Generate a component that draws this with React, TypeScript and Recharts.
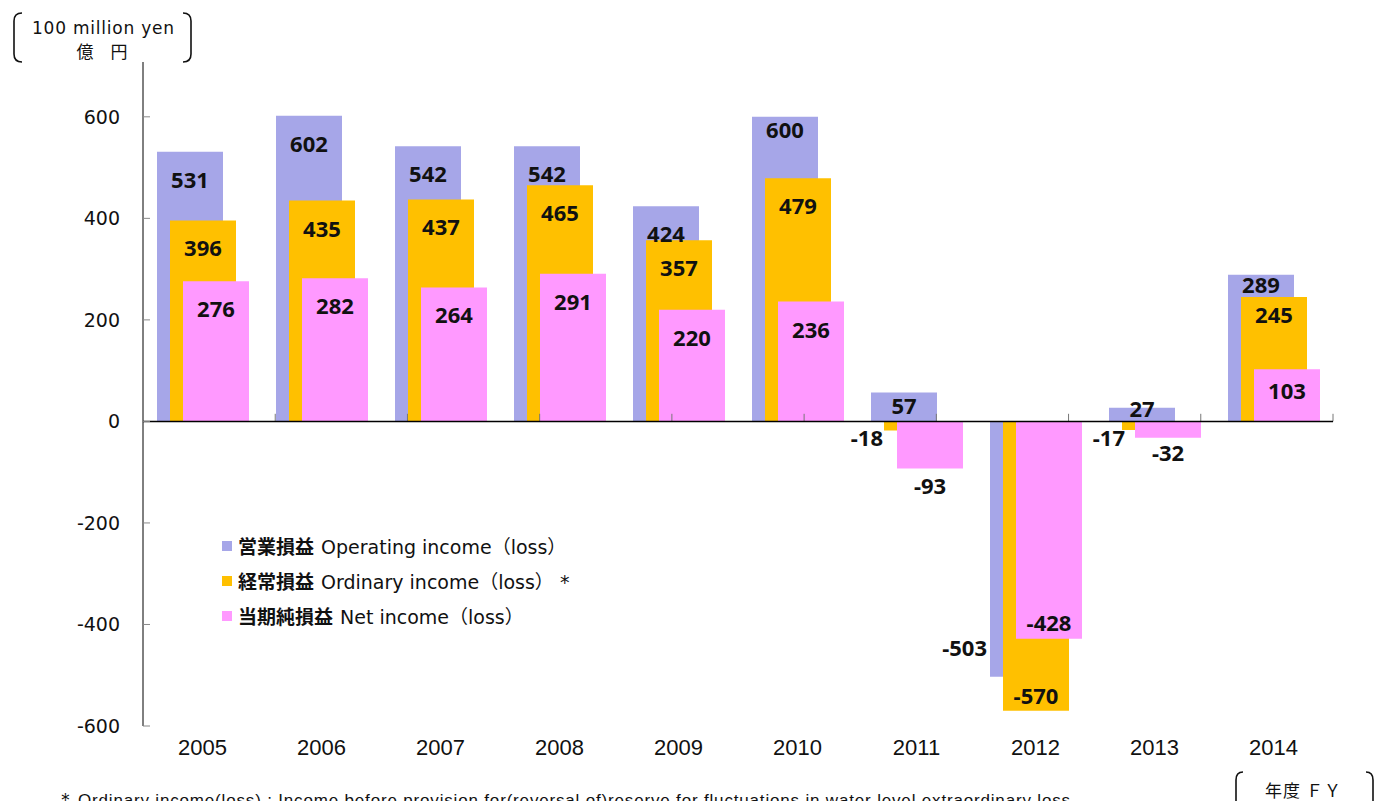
import React from 'react';
import { BarChart, Bar, XAxis, YAxis, ReferenceLine, LabelList, Legend } from 'recharts';

// fiscal years and results, 100 million yen
const years = ['2005', '2006', '2007', '2008', '2009', '2010', '2011', '2012', '2013', '2014'];
const operatingIncome = [531, 602, 542, 542, 424, 600, 57, -503, 27, 289];
const ordinaryIncome = [396, 435, 437, 465, 357, 479, -18, -570, -17, 245];
const netIncome = [276, 282, 264, 291, 220, 236, -93, -428, -32, 103];
const yTicks = [-600, -400, -200, 0, 200, 400, 600];
const categoryEdges = [1, 2, 3, 4, 5, 6, 7, 8, 9, 10];

const series = [
    { key: 'operating', jp: '営業損益', en: 'Operating income（loss）', color: '#A6A6E8' },
    { key: 'ordinary', jp: '経常損益', en: 'Ordinary income（loss） *', color: '#FFC000' },
    { key: 'net', jp: '当期純損益', en: 'Net income（loss）', color: '#FF99FF' },
];

const data = years.map((year, i) => ({
    year,
    operating: operatingIncome[i],
    ordinary: ordinaryIncome[i],
    net: netIncome[i],
}));

// where each value label sits (default: inside the top of the bar)
type Place = { mode: 'inTop' | 'left' | 'below' | 'inBottom'; d: number; dx?: number };
const labelPlaces: Record<string, Record<number, Place>> = {
    operating: {
        5: { mode: 'inTop', d: 13 },
        6: { mode: 'inTop', d: 14 },
        7: { mode: 'left', d: 227, dx: -3 },
        8: { mode: 'inTop', d: 1 },
        9: { mode: 'inTop', d: 10 },
    },
    ordinary: {
        6: { mode: 'left', d: 17, dx: -1 },
        7: { mode: 'inBottom', d: 15 },
        8: { mode: 'left', d: 17, dx: 3 },
        9: { mode: 'inTop', d: 18 },
    },
    net: {
        6: { mode: 'below', d: 17 },
        7: { mode: 'inBottom', d: 16 },
        8: { mode: 'below', d: 15 },
        9: { mode: 'inTop', d: 22 },
    },
};

const LABEL_SIZE = 22;

const makeLabel = (key: string) => (props: any) => {
    const vb = props.viewBox || props;
    const x = Number(vb.x ?? props.x);
    const y = Number(vb.y ?? props.y);
    const w = Number(vb.width ?? props.width);
    const h = Number(vb.height ?? props.height);
    const top = Math.min(y, y + h);
    const bottom = Math.max(y, y + h);
    const place: Place = labelPlaces[key][props.index] || { mode: 'inTop', d: 28 };
    let tx = x + w / 2;
    let ty = top + place.d;
    let anchor: 'middle' | 'end' = 'middle';
    if (place.mode === 'left') {
        tx = x + (place.dx || 0);
        anchor = 'end';
    } else if (place.mode === 'below') {
        ty = bottom + place.d;
    } else if (place.mode === 'inBottom') {
        ty = bottom - place.d;
    }
    return (
        <text
            x={tx}
            y={ty + LABEL_SIZE * 0.36}
            textAnchor={anchor}
            fontFamily="'Noto Sans', sans-serif"
            fontWeight={700}
            fontSize={LABEL_SIZE}
            fill="#111"
        >
            {props.value}
        </text>
    );
};

const YTick = (props: any) => {
    const { x, y, payload } = props;
    return (
        <g>
            <line x1={x} x2={x + 7} y1={y} y2={y} stroke="#888" strokeWidth={1} />
            <text x={x - 23} y={y + 7} textAnchor="end" fontFamily="'DejaVu Sans', sans-serif" fontSize={19} fill="#111">
                {payload.value}
            </text>
        </g>
    );
};

const XTick = (props: any) => {
    const { x, y, payload } = props;
    return (
        <text x={x} y={y + 29} textAnchor="middle" fontFamily="'Liberation Sans', Arial, sans-serif" fontSize={22} fill="#111">
            {payload.value}
        </text>
    );
};

const LegendBox = () => (
    <div style={{ fontSize: 19, color: '#111' }}>
        {series.map((s) => (
            <div key={s.key} style={{ height: 35, display: 'flex', alignItems: 'center', whiteSpace: 'nowrap' }}>
                <span style={{ width: 10, height: 10, background: s.color, display: 'inline-block', marginRight: 6 }} />
                <span style={{ fontFamily: "'Noto Sans CJK JP', sans-serif", fontWeight: 700 }}>{s.jp}</span>
                <span style={{ fontFamily: "'DejaVu Sans', 'Noto Sans CJK JP', sans-serif", marginLeft: 7 }}>{s.en}</span>
            </div>
        ))}
    </div>
);

const App: React.FC = () => {
    return (
        <div style={{ position: 'absolute', left: 0, top: 0, width: 1375, height: 801, overflow: 'hidden', background: '#fff' }}>
            <BarChart
                width={1375}
                height={801}
                data={data}
                margin={{ top: 62, right: 42, bottom: 35, left: 83 }}
                barSize={66}
                barGap={-53}
            >
                <XAxis
                    xAxisId="cat"
                    dataKey="year"
                    axisLine={false}
                    tickLine={false}
                    tickSize={0}
                    tickMargin={0}
                    height={40}
                    tick={<XTick />}
                    interval={0}
                />
                <XAxis xAxisId="edge" type="number" domain={[0, 10]} hide />
                <YAxis
                    domain={[-600, 708]}
                    ticks={yTicks}
                    allowDataOverflow
                    width={60}
                    axisLine={{ stroke: '#000', strokeWidth: 1 }}
                    tickLine={false}
                    tickSize={0}
                    tickMargin={0}
                    tick={<YTick />}
                    interval={0}
                />
                <Legend
                    layout="vertical"
                    align="center"
                    verticalAlign="middle"
                    content={<LegendBox />}
                    wrapperStyle={{ left: 222, top: 528, width: 420, height: 105 }}
                />
                {series.map((s) => (
                    <Bar key={s.key} xAxisId="cat" dataKey={s.key} fill={s.color} isAnimationActive={false}>
                        <LabelList dataKey={s.key} content={makeLabel(s.key)} />
                    </Bar>
                ))}
                {categoryEdges.map((e) => (
                    <ReferenceLine
                        key={e}
                        xAxisId="edge"
                        segment={[{ x: e, y: 0 }, { x: e, y: 15 }]}
                        stroke="#777"
                        strokeWidth={1}
                    />
                ))}
                <ReferenceLine xAxisId="cat" y={0} stroke="#000" strokeWidth={1.5} />
            </BarChart>

            <svg width={1375} height={801} style={{ position: 'absolute', left: 0, top: 0, pointerEvents: 'none' }}>
                <g fill="none" stroke="#111" strokeWidth={1.6}>
                    <path d="M22,13 Q14,13 14,21 L14,54 Q14,62 22,62" />
                    <path d="M183,13 Q191,13 191,21 L191,54 Q191,62 183,62" />
                    <path d="M1243,772 Q1236,772 1236,780 L1236,808" />
                    <path d="M1366,772 Q1373,772 1373,780 L1373,808" />
                </g>
                <g fill="#111">
                    <text x={32} y={34} fontFamily="'DejaVu Sans', sans-serif" fontSize={17} textLength={142}>
                        100 million yen
                    </text>
                    <text x={102} y={58} textAnchor="middle" fontFamily="'Noto Sans CJK JP', sans-serif" fontSize={17}>
                        億　円
                    </text>
                    <text x={1265} y={797} fontFamily="'Noto Sans CJK JP', sans-serif" fontSize={17} textLength={76}>
                        年度 ＦＹ
                    </text>
                    <text x={56} y={806} fontFamily="'Liberation Sans', Arial, sans-serif" fontSize={19}>
                        ＊
                    </text>
                    <text x={78} y={806} fontFamily="'Liberation Sans', Arial, sans-serif" fontSize={17} textLength={992}>
                        Ordinary income(loss) : Income before provision for(reversal of)reserve for fluctuations in water  level extraordinary loss
                    </text>
                </g>
            </svg>
        </div>
    );
};

export default App;
